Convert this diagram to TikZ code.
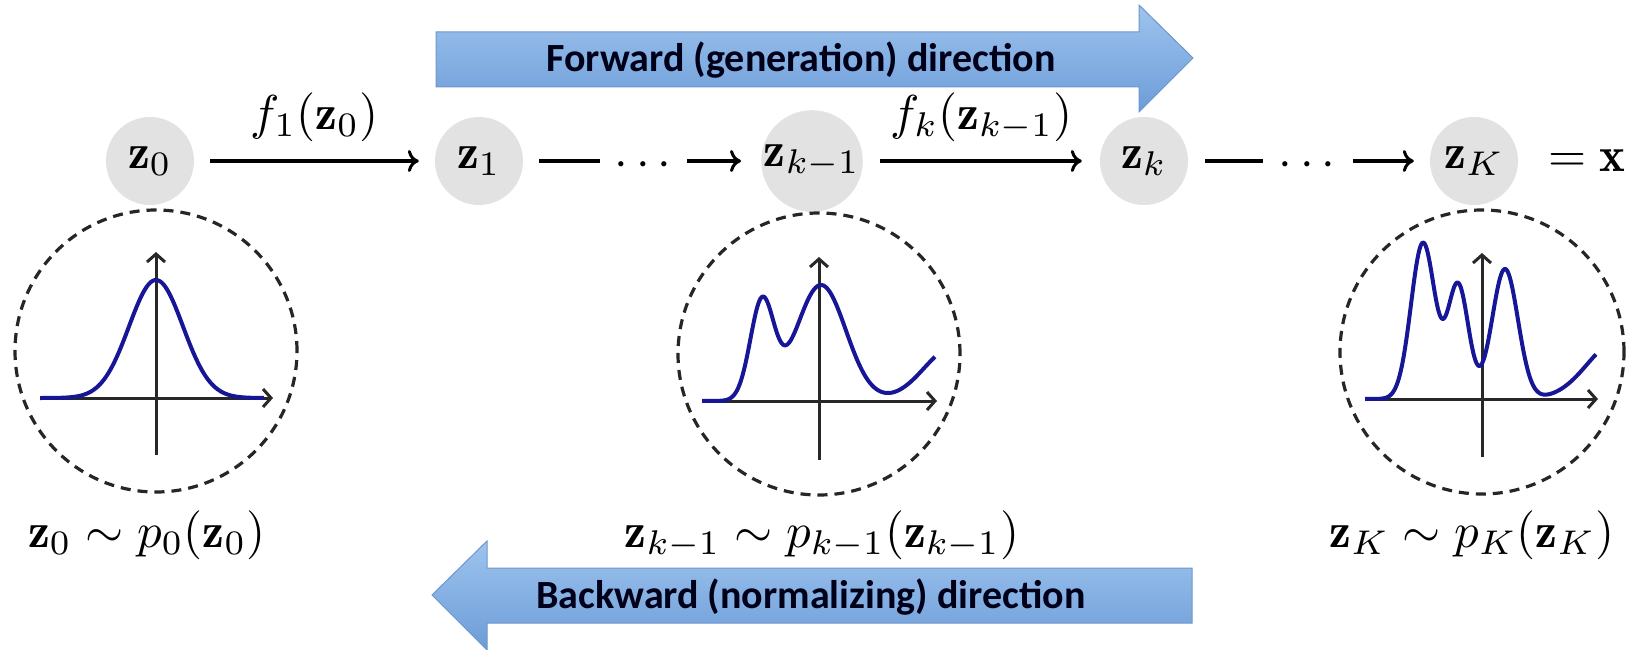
\documentclass[tikz,border=0pt]{standalone}
\usepackage{graphicx}
\usepackage{fontspec}
\newfontfamily\arrowfont{Carlito}
\usetikzlibrary{arrows.meta}
\definecolor{zgray}{RGB}{226,226,226}
\definecolor{curveblue}{RGB}{22,22,150}
\definecolor{axisgray}{RGB}{40,40,40}
\definecolor{bandtop}{RGB}{158,196,238}
\definecolor{bandbot}{RGB}{108,156,216}
\definecolor{bandedge}{RGB}{110,150,205}
\newcommand\zm[1]{\scalebox{4.9}{$#1$}}
\newcommand\bandfont{\arrowfont\bfseries\fontsize{40}{48}\selectfont}
\begin{document}
\begin{tikzpicture}[x=1pt,y=-1pt,
  znode/.style={circle, fill=zgray, minimum size=88pt, inner sep=0pt},
  mathlabel/.style={inner sep=0pt},
  conn/.style={line width=3pt, black},
  connarrow/.style={conn, -{Computer Modern Rightarrow[length=11pt,width=22pt,line width=3pt]}},
  band/.style={top color=bandtop, bottom color=bandbot, draw=bandedge, line width=1pt},
  bandtext/.style={inner sep=0pt, font=\bandfont, text=black!90!blue},
  axisline/.style={line width=3pt, axisgray, -{Straight Barb[length=8pt,width=18pt]}},
  distcircle/.style={line width=3.2pt, black!85, dash pattern=on 10pt off 7pt},
  curve/.style={line width=4pt, curveblue, line join=round}]
\useasboundingbox (0,0) rectangle (1649,650);

% big direction arrows
\shade[band] (436,32) -- (1139,32) -- (1139,5) -- (1193,58) -- (1139,112) -- (1139,87) -- (436,87) -- cycle;
\node[bandtext] (fwd) at (801,60) {Forward (generation) direction};
\shade[band] (1192,568) -- (487,568) -- (487,541) -- (432,595) -- (487,650) -- (487,623) -- (1192,623) -- cycle;
\node[bandtext] (bwd) at (811,597) {Backward (normalizing) direction};

% chain nodes
\node[znode] (z0) at (150,161) {\zm{\mathbf{z}_0}};
\node[znode] (z1) at (479,161) {\zm{\mathbf{z}_1}};
\node[znode] (zkm1) at (812,161) {\zm{\mathbf{z}_{k-1}}};
\node[znode] (zk) at (1144,161) {\zm{\mathbf{z}_k}};
\node[znode] (zK) at (1474,161) {\zm{\mathbf{z}_K}};
\node[mathlabel] (eqx) at (1587,161) {\zm{=\mathbf{x}}};

% connectors
\draw[connarrow, shorten <=16pt, shorten >=16pt] (z0) -- node[mathlabel, above=18pt] (f1) {\zm{f_1(\mathbf{z}_0)}} (z1);
\coordinate (a1) at (600,161);
\coordinate (b1) at (687,161);
\node[mathlabel] (dots1) at (643,166) {\zm{\cdots}};
\draw[conn, shorten <=16pt] (z1) -- (a1);
\draw[connarrow, shorten >=20pt] (b1) -- (zkm1);
\draw[connarrow, shorten <=17pt, shorten >=18pt] (zkm1) -- node[mathlabel, above=18pt] (fk) {\zm{f_k(\mathbf{z}_{k-1})}} (zk);
\coordinate (a2) at (1263,161);
\coordinate (b2) at (1353,161);
\node[mathlabel] (dots2) at (1307,166) {\zm{\cdots}};
\draw[conn, shorten <=17pt] (zk) -- (a2);
\draw[connarrow, shorten >=16pt] (b2) -- (zK);

% distribution labels
\node[mathlabel] (p0) at (147,535) {\zm{\mathbf{z}_0\sim p_0(\mathbf{z}_0)}};
\node[mathlabel] (pkm1) at (822,535) {\zm{\mathbf{z}_{k-1}\sim p_{k-1}(\mathbf{z}_{k-1})}};
\node[mathlabel] (pK) at (1472,535) {\zm{\mathbf{z}_K\sim p_K(\mathbf{z}_K)}};

% left density
\begin{scope}[shift={(156,398)}, x=10pt, y=10pt]
  \draw[distcircle] (0,4.7) circle[radius=14.1];
  \draw[axisline] (-11.6,0) -- (11.7,0);
  \draw[axisline] (0,-5.7) -- (0,14.6);
  \draw[curve] plot[domain=-11.6:10.8, samples=160] (\x,{11.8*exp(-(\x)^2/14.58)});
\end{scope}

% middle density
\begin{scope}[shift={(819,401)}, x=10pt, y=10pt]
  \draw[distcircle] (0,4.7) circle[radius=14.1];
  \draw[axisline] (-11.7,0) -- (11.8,0);
  \draw[axisline] (0,-5.9) -- (0,14.4);
  \draw[curve] plot[domain=-11.7:11.6, samples=200] (\x,{9.7*exp(-(\x+5.7)^2/2.78)+11.6*exp(-(\x-0.2)^2/12.5)+5.4*exp(-(\x-13.5)^2/18)});
\end{scope}

% right density
\begin{scope}[shift={(1482,399)}, x=10pt, y=10pt]
  \draw[distcircle] (0,4.7) circle[radius=14.2];
  \draw[axisline] (-11.7,0) -- (11.6,0);
  \draw[axisline] (0,-5.8) -- (0,14.6);
  \draw[curve] plot[domain=-11.7:11.4, samples=240] (\x,{15.6*exp(-(\x+5.9)^2/2.88)+11.4*exp(-(\x+2.4)^2/2.205)+13*exp(-(\x-2.3)^2/3.38)+5.7*exp(-(\x-13.5)^2/18)});
\end{scope}
\end{tikzpicture}
\end{document}
